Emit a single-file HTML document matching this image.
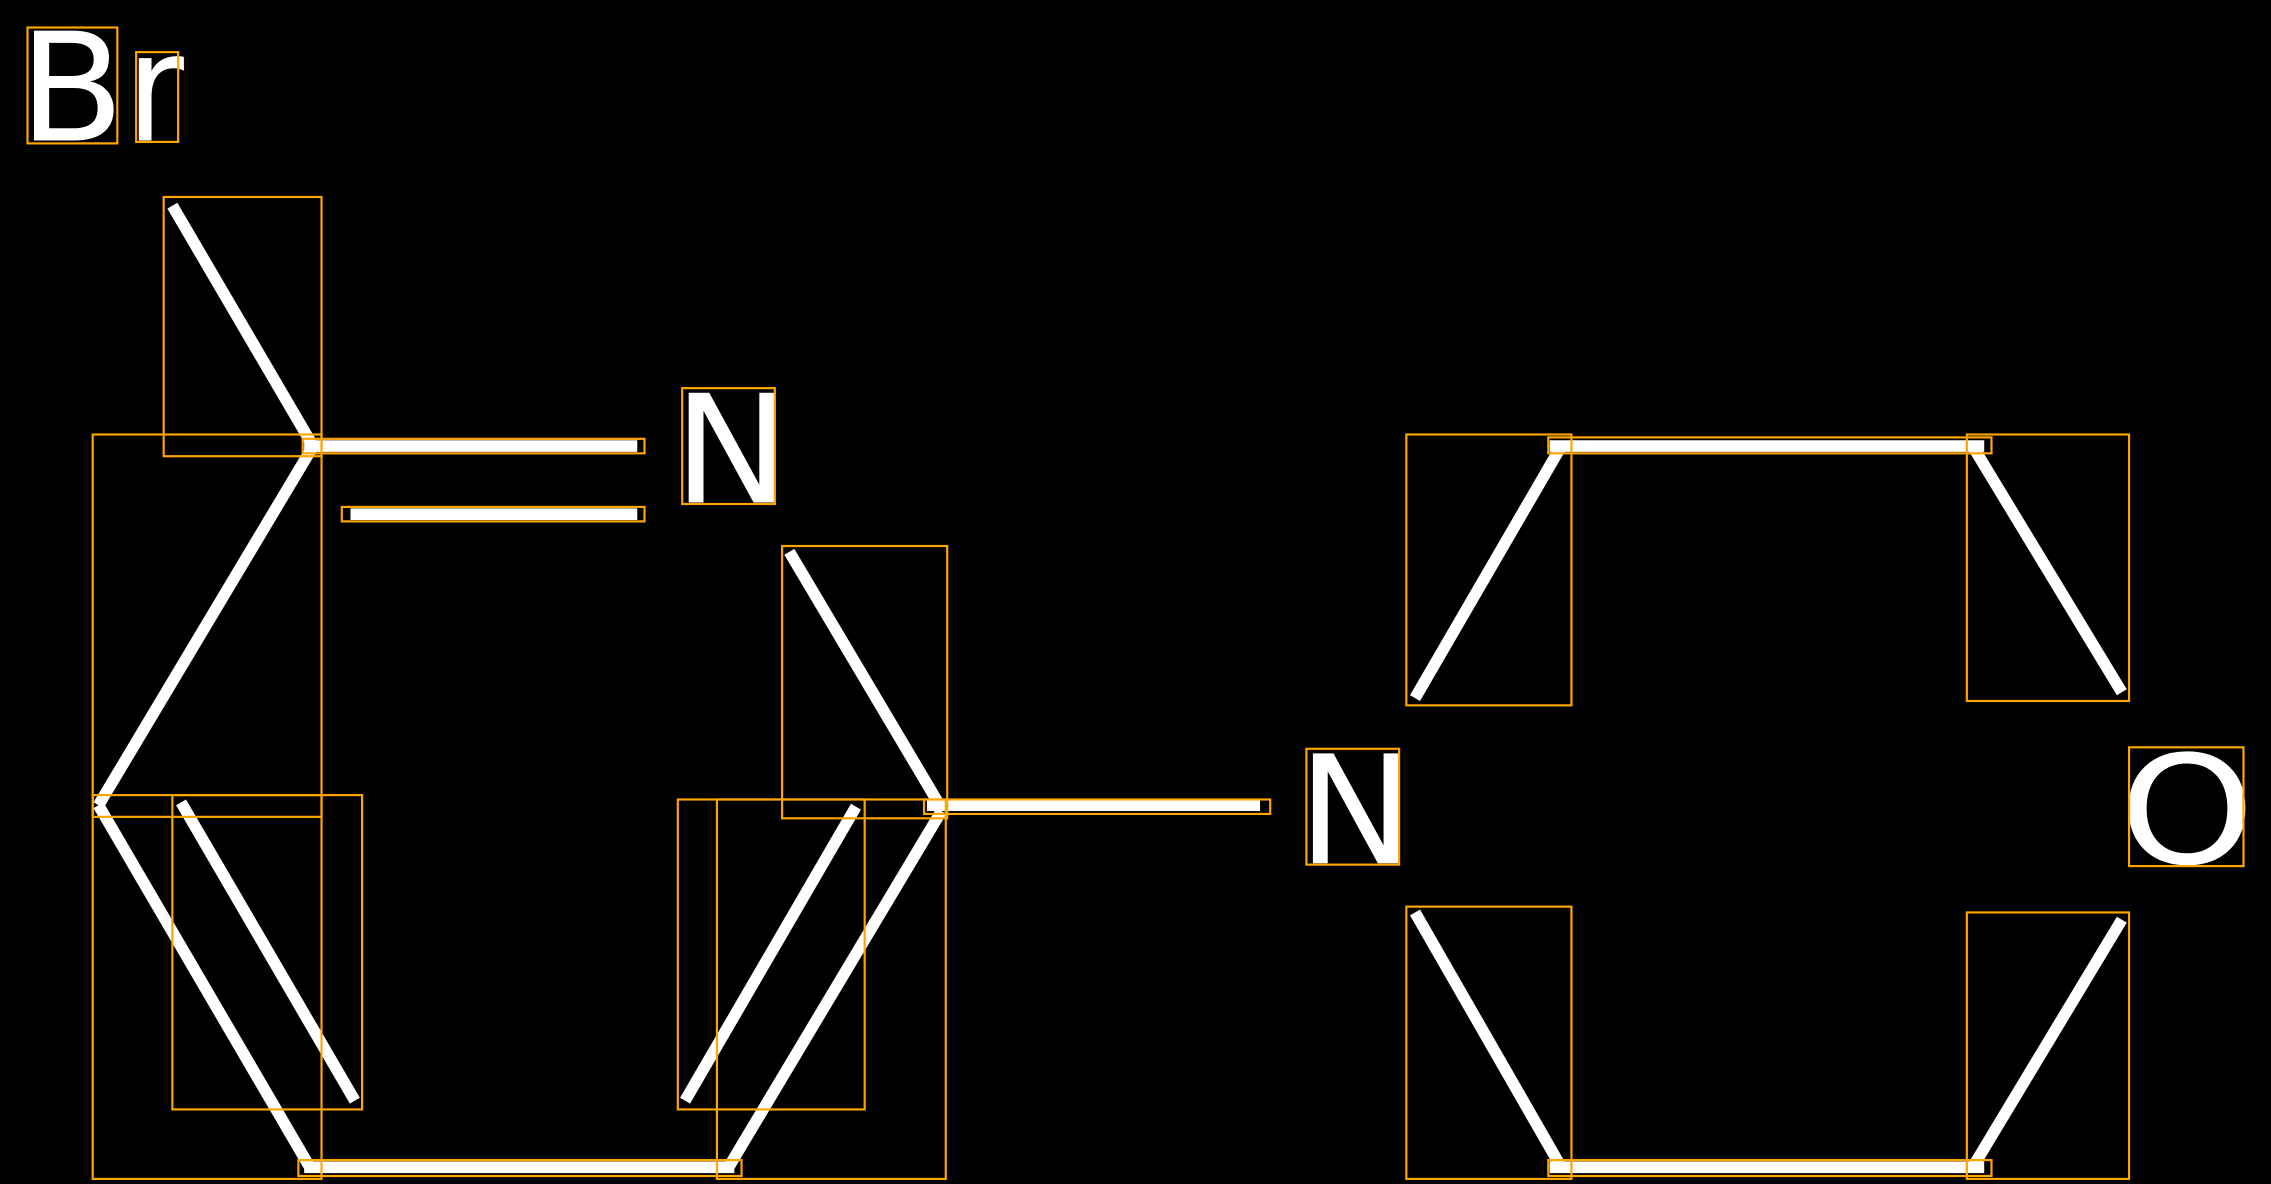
<!DOCTYPE html>
<html><head><meta charset="utf-8"><style>
html,body{margin:0;padding:0;background:#000;}
svg{display:block;}
text{font-family:"DejaVu Sans","Liberation Sans",sans-serif;fill:#fff;}
</style></head><body>
<svg width="2271" height="1184" viewBox="0 0 1568 817.5" preserveAspectRatio="none" xmlns="http://www.w3.org/2000/svg">
<rect x="0" y="0" width="1568" height="817.5" fill="#000"/>
<g stroke="#fff" stroke-width="8" fill="none">
<line x1="119" y1="142" x2="215" y2="306"/>
<line x1="210" y1="308" x2="440" y2="308"/>
<line x1="242" y1="355" x2="440" y2="355"/>
<line x1="215" y1="310" x2="68" y2="556"/>
<line x1="68" y1="556" x2="214" y2="806"/>
<line x1="125" y1="554" x2="245" y2="760"/>
<line x1="210" y1="806" x2="507" y2="806"/>
<line x1="503" y1="806" x2="650" y2="560"/>
<line x1="473" y1="760" x2="591" y2="557"/>
<line x1="545" y1="381" x2="650" y2="558"/>
<line x1="640" y1="556" x2="870" y2="556"/>
<line x1="977" y1="482" x2="1078" y2="308"/>
<line x1="1070" y1="308" x2="1370" y2="308"/>
<line x1="1362" y1="308" x2="1465" y2="478"/>
<line x1="977" y1="630" x2="1078" y2="806"/>
<line x1="1070" y1="806" x2="1370" y2="806"/>
<line x1="1362" y1="806" x2="1465" y2="635"/>
</g>
<text x="13" y="97" font-size="104" textLength="73" lengthAdjust="spacingAndGlyphs">B</text>
<text x="87" y="97" font-size="104" textLength="40" lengthAdjust="spacingAndGlyphs">r</text>
<text x="465" y="347" font-size="104" textLength="80" lengthAdjust="spacingAndGlyphs">N</text>
<text x="896" y="596" font-size="104" textLength="80" lengthAdjust="spacingAndGlyphs">N</text>
<text x="1463" y="596" font-size="104" textLength="94" lengthAdjust="spacingAndGlyphs">O</text>
<g stroke="#FFA500" stroke-width="1.5" fill="none">
<rect x="19" y="19" width="62" height="80"/>
<rect x="94" y="36" width="29" height="62"/>
<rect x="113" y="136" width="109" height="179"/>
<rect x="209" y="303" width="236" height="10"/>
<rect x="236" y="350" width="209" height="10"/>
<rect x="471" y="268" width="64" height="80"/>
<rect x="64" y="300" width="158" height="264"/>
<rect x="64" y="549" width="158" height="265"/>
<rect x="119" y="549" width="131" height="217"/>
<rect x="206" y="801" width="306" height="11"/>
<rect x="468" y="552" width="129" height="214"/>
<rect x="495" y="552" width="158" height="262"/>
<rect x="540" y="377" width="114" height="188"/>
<rect x="638" y="552" width="239" height="10"/>
<rect x="902" y="517" width="64" height="80"/>
<rect x="1470" y="516" width="79" height="82"/>
<rect x="971" y="300" width="114" height="187"/>
<rect x="1069" y="302" width="306" height="11"/>
<rect x="1358" y="300" width="112" height="184"/>
<rect x="971" y="626" width="114" height="188"/>
<rect x="1069" y="801" width="306" height="11"/>
<rect x="1358" y="630" width="112" height="184"/>
</g>
</svg>
</body></html>
